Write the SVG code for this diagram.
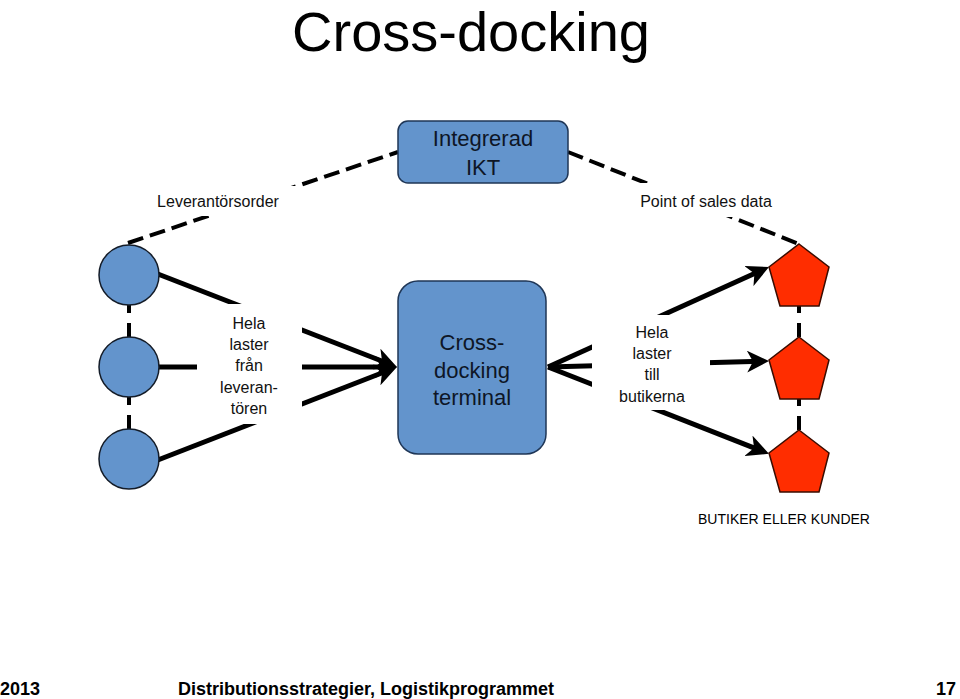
<svg xmlns="http://www.w3.org/2000/svg" width="960" height="699" viewBox="0 0 960 699">
<defs>
<style>
.box{fill:#6394cc;stroke:#1f3656;stroke-width:1.5}
.circ{fill:#6394cc;stroke:#141c28;stroke-width:1.5}
.pent{fill:#ff2d00;stroke:#3a0c00;stroke-width:1.5}
.boxt{font-family:"Liberation Sans",Arial,sans-serif;font-size:22px;fill:#0e1626;text-anchor:middle}
.lbl{font-family:"Liberation Sans",Arial,sans-serif;font-size:16px;fill:#111;text-anchor:middle}
.foot{font-family:"Liberation Sans",Arial,sans-serif;font-size:18px;font-weight:bold;fill:#000}
.solid{stroke:#000;stroke-width:5;fill:none}
.dash{stroke:#000;stroke-width:4;fill:none;stroke-dasharray:16 7}
.vdash{stroke:#000;stroke-width:4;fill:none;stroke-dasharray:14 10}
.bg{fill:#fff}
</style>
<marker id="arr" viewBox="0 0 22 22" refX="14" refY="11" markerWidth="22" markerHeight="22" markerUnits="userSpaceOnUse" orient="auto">
<path d="M0,0 L22,11 L0,22 L6,11 Z" fill="#000"/>
</marker>
</defs>
<rect width="960" height="699" fill="#fff"/>
<text x="471" y="51" font-family="Liberation Sans,Arial,sans-serif" font-size="56" fill="#000" text-anchor="middle">Cross-docking</text>
<g id="connectors">
<line class="dash" x1="128" y1="243" x2="398" y2="152"/>
<line class="dash" x1="568" y1="152" x2="799" y2="244"/>
<line class="vdash" x1="129" y1="337" x2="129" y2="305"/>
<line class="vdash" x1="129" y1="429" x2="129" y2="397"/>
<line class="vdash" x1="799" y1="337" x2="799" y2="306"/>
<line class="vdash" x1="799" y1="430" x2="799" y2="399"/>
<line class="solid" x1="145" y1="269" x2="389.5" y2="364" marker-end="url(#arr)"/>
<line class="solid" x1="145" y1="367" x2="389" y2="367" marker-end="url(#arr)"/>
<line class="solid" x1="145" y1="465" x2="389.5" y2="370" marker-end="url(#arr)"/>
<line class="solid" x1="548" y1="367" x2="761.7" y2="270.3" marker-end="url(#arr)"/>
<line class="solid" x1="548" y1="367" x2="761" y2="361.2" marker-end="url(#arr)"/>
<line class="solid" x1="548" y1="367" x2="761.5" y2="450.9" marker-end="url(#arr)"/>
</g>
<g id="label-leverantorsorder">
<rect class="bg" x="140" y="186" width="157" height="30"/>
<text class="lbl" x="218" y="207">Leverantörsorder</text>
</g>
<g id="label-pos">
<rect class="bg" x="630" y="183" width="155" height="34"/>
<text class="lbl" x="706" y="207">Point of sales data</text>
</g>
<g id="label-hela-fran">
<rect class="bg" x="197" y="304" width="105" height="120"/>
<text class="lbl" x="249" y="329">Hela</text>
<text class="lbl" x="249" y="350">laster</text>
<text class="lbl" x="249" y="371">från</text>
<text class="lbl" x="249" y="393">leveran-</text>
<text class="lbl" x="249" y="414">tören</text>
</g>
<g id="label-hela-till">
<rect class="bg" x="592" y="315" width="118" height="95"/>
<text class="lbl" x="652" y="338">Hela</text>
<text class="lbl" x="652" y="359">laster</text>
<text class="lbl" x="652" y="380">till</text>
<text class="lbl" x="652" y="402">butikerna</text>
</g>
<g id="node-ikt">
<rect class="box" x="398" y="121" width="170" height="62" rx="10"/>
<text class="boxt" x="483" y="146">Integrerad</text>
<text class="boxt" x="483" y="175">IKT</text>
</g>
<g id="node-terminal">
<rect class="box" x="398" y="281" width="148" height="173" rx="20"/>
<text class="boxt" x="472" y="350">Cross-</text>
<text class="boxt" x="472" y="378">docking</text>
<text class="boxt" x="472" y="405">terminal</text>
</g>
<g id="node-supplier-1"><circle class="circ" cx="129" cy="275" r="30"/></g>
<g id="node-supplier-2"><circle class="circ" cx="129" cy="367" r="30"/></g>
<g id="node-supplier-3"><circle class="circ" cx="129" cy="459" r="30"/></g>
<g id="node-store-1"><polygon class="pent" points="799,244 829,267 819,306 780,306 769,267"/></g>
<g id="node-store-2"><polygon class="pent" points="799,337 829,360 819,399 780,399 769,360"/></g>
<g id="node-store-3"><polygon class="pent" points="799,430 829,453 819,492 780,492 769,453"/></g>
<g id="label-butiker">
<text x="784" y="524" font-family="Liberation Sans,Arial,sans-serif" font-size="14" fill="#000" text-anchor="middle">BUTIKER ELLER KUNDER</text>
</g>
<g id="footer">
<text class="foot" x="0" y="695">2013</text>
<text class="foot" x="178" y="695">Distributionsstrategier, Logistikprogrammet</text>
<text class="foot" x="956" y="695" text-anchor="end">17</text>
</g>
</svg>
